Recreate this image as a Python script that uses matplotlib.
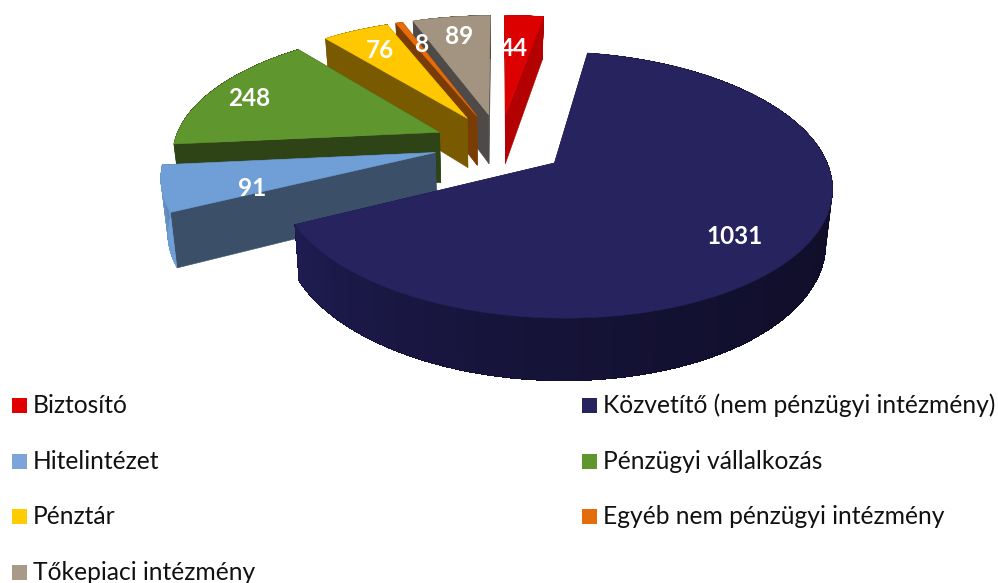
import numpy as np
import matplotlib
matplotlib.use("Agg")
import matplotlib.pyplot as plt
from matplotlib.patches import Polygon, Rectangle
from matplotlib.colors import to_rgb

categories = ["Biztosító", "Közvetítő (nem pénzügyi intézmény)", "Hitelintézet",
              "Pénzügyi vállalkozás", "Pénztár", "Egyéb nem pénzügyi intézmény",
              "Tőkepiaci intézmény"]
values = [44, 1031, 91, 248, 76, 8, 89]
top_colors = ["#DC0000", "#26235F", "#6F9FD6", "#5F962E", "#FFC800", "#E46C0A", "#A39482"]
radial_colors = ["#B30000", "#15133A", "#3B5068", "#2E4416", "#7A5A00", "#7A3C05", "#4E4A47"]
rim_colors_a = ["#B30000", "#0F0D26", "#6F9FD6", "#2E4416", "#7A5A00", "#7A3C05", "#4E4A47"]
rim_colors_b = ["#B30000", "#1F1C52", "#5C86B8", "#2E4416", "#7A5A00", "#7A3C05", "#4E4A47"]
legend_colors = ["#E00000", "#26235F", "#7BA5D8", "#5F962E", "#FFCC00", "#E46C0A", "#A89A86"]
paint_order = [0, 6, 5, 4, 3, 2, 1]
label_xy = [(514, 49), (735, 236), (252, 188), (249, 98), (380, 50), (422, 45), (459, 36)]

W, H = 998, 583
XV, YV, R, B, K, DEPTH, EXPLODE, TAPER = 500, 144, 266, 123.5, 0.16, 51, 0.25, 0.02


def project(u, v, z=0.0):
    s = 1 / (1 + K * v)
    return XV + R * u * s * (1 - TAPER * z / DEPTH), YV - B * v * s + z * s


fig = plt.figure(figsize=(W / 100, H / 100), dpi=100)
ax = fig.add_axes([0, 0, 1, 1])
ax.set_xlim(0, W)
ax.set_ylim(H, 0)
ax.axis("off")

edges = np.concatenate([[0], np.cumsum(values)]) / sum(values) * 2 * np.pi


def slice_geometry(i):
    a0, a1 = edges[i], edges[i + 1]
    mid = (a0 + a1) / 2
    u0, v0 = EXPLODE * np.sin(mid), EXPLODE * np.cos(mid)
    th = np.linspace(a0, a1, max(3, int(np.degrees(a1 - a0)) * 2))
    return u0, v0, th, u0 + np.sin(th), v0 + np.cos(th)


def add_poly(points, color, zorder, lw=0.4):
    ax.add_patch(Polygon(points, closed=True, facecolor=color, edgecolor=color,
                         linewidth=lw, zorder=zorder))


for rank, i in enumerate(paint_order):
    u0, v0, th, us, vs = slice_geometry(i)
    base = 10 + rank * 3
    for u1, v1 in [(us[0], vs[0]), (us[-1], vs[-1])]:
        add_poly([project(u0, v0), project(u1, v1),
                  project(u1, v1, DEPTH), project(u0, v0, DEPTH)],
                 radial_colors[i], base)
    ca, cb = np.array(to_rgb(rim_colors_a[i])), np.array(to_rgb(rim_colors_b[i]))
    # Each rim piece runs to the far end of the arc, so later pieces paint over earlier ones
    # without the hairline seams that abutting antialiased quads would leave.
    for j in range(len(th) - 1):
        t = (j / max(1, len(th) - 2)) ** 3
        outer = [project(a, b) for a, b in zip(us[j:], vs[j:])]
        inner = [project(a, b, DEPTH) for a, b in zip(us[j:], vs[j:])]
        add_poly(outer + inner[::-1], tuple(ca + (cb - ca) * t), base + 1, lw=0.2)
    add_poly([project(u0, v0)] + [project(a, b) for a, b in zip(us, vs)],
             top_colors[i], base + 2)

for value, (x, y) in zip(values, label_xy):
    ax.text(x, y, str(value), color="white", fontsize=17.5, fontweight="bold",
            family="Lato", ha="center", va="center", zorder=60)

# Legend
rows = [405.5, 461.5, 516.5, 572.5]
positions = [(12, rows[0]), (582, rows[0]), (12, rows[1]), (582, rows[1]),
             (12, rows[2]), (582, rows[2]), (12, rows[3])]
for name, color, (x, y) in zip(categories, legend_colors, positions):
    ax.add_patch(Rectangle((x, y - 7.5), 15, 15, facecolor=color, edgecolor="none", zorder=60))
    ax.text(x + 21, y, name, color="#111111", fontsize=17.7, family="Lato",
            ha="left", va="center", zorder=60)

fig.savefig("out.png", dpi=100)
